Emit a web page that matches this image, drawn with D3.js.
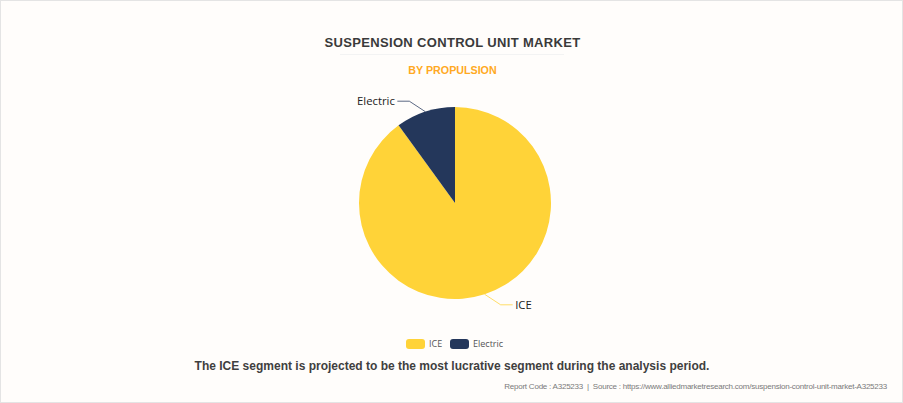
<!DOCTYPE html>
<html><head><meta charset="utf-8">
<script src="https://cdn.jsdelivr.net/npm/d3@7/dist/d3.min.js"></script>
<style>html,body{margin:0;padding:0;background:#fff}svg{display:block}</style>
</head><body><svg id="c" width="903" height="403"></svg>
<script>
const categories = ["ICE", "Electric"];
const values = [90, 10];
const colors = ["#FFD338", "#24375B"];
const titleText = "SUSPENSION CONTROL UNIT MARKET";
const subtitleText = "BY PROPULSION";
const noteText = "The ICE segment is projected to be the most lucrative segment during the analysis period.";
const sourceText = "Report Code : A325233  |  Source : https://www.alliedmarketresearch.com/suspension-control-unit-market-A325233";

const W = 903, H = 403, cx = 455, cy = 203, R = 96;
const svg = d3.select("#c");
svg.append("rect").attr("x",0.5).attr("y",0.5).attr("width",W-1).attr("height",H-1)
  .attr("fill","#FFFDFB").attr("stroke","#E4E4E4");

const txt = (x,y,s,font,size,weight,fill,anchor)=>svg.append("text").attr("x",x).attr("y",y)
  .attr("font-family",font).attr("font-size",size).attr("font-weight",weight)
  .attr("fill",fill).attr("text-anchor",anchor||"middle").attr("xml:space","preserve").text(s);

const sans = "Liberation Sans, Arial, sans-serif", open = "'Open Sans', 'Noto Sans', sans-serif";
txt(452.5,47,titleText,sans,13,700,"#3A3A3A").attr("letter-spacing",0.33);
svg.append("line").attr("x1",340).attr("x2",564).attr("y1",54.5).attr("y2",54.5).attr("stroke","#F3F3F3");
txt(452.5,74,subtitleText,sans,10.7,700,"#FFA922");
txt(452,369.5,noteText,sans,12,700,"#3F3F3F");
txt(887,389,sourceText,sans,8,400,"#7A7A7A","end").attr("letter-spacing",-0.23);

const pie = d3.pie().sort(null).value(d=>d)(values);
const arc = d3.arc().innerRadius(0).outerRadius(R);
const g = svg.append("g").attr("transform",`translate(${cx},${cy})`);
g.selectAll("path.s").data(pie).join("path").attr("class","s").attr("d",arc)
  .attr("fill",(d,i)=>colors[i]);

const outer1 = d3.arc().innerRadius(R).outerRadius(R);
pie.forEach((d,i)=>{
  const a = outer1.centroid(d);
  const side = a[0] < 0 ? -1 : 1, vert = a[1] < 0 ? -1 : 1;
  const b = [a[0] + side*16, a[1] + vert*10.5];
  const c = [b[0] + side*12, b[1]];
  g.append("path").attr("d",d3.line()([a,b,c])).attr("fill","none")
    .attr("stroke",colors[i]).attr("stroke-width",1).attr("stroke-opacity",0.75);
  g.append("text").attr("x",c[0]+side*2.5).attr("y",b[1]+4)
    .attr("text-anchor",side<0?"end":"start").attr("font-family",open)
    .attr("font-size",11.3).attr("fill","#222").text(categories[i]);
});

const legendX = [406,450];
categories.forEach((n,i)=>{
  svg.append("rect").attr("x",legendX[i]).attr("y",339).attr("width",19).attr("height",10).attr("rx",3)
    .attr("fill",colors[i]);
  svg.append("text").attr("x",legendX[i]+23).attr("y",346.5).attr("font-family",open)
    .attr("font-size",9).attr("fill","#555").text(n);
});
</script></body></html>
